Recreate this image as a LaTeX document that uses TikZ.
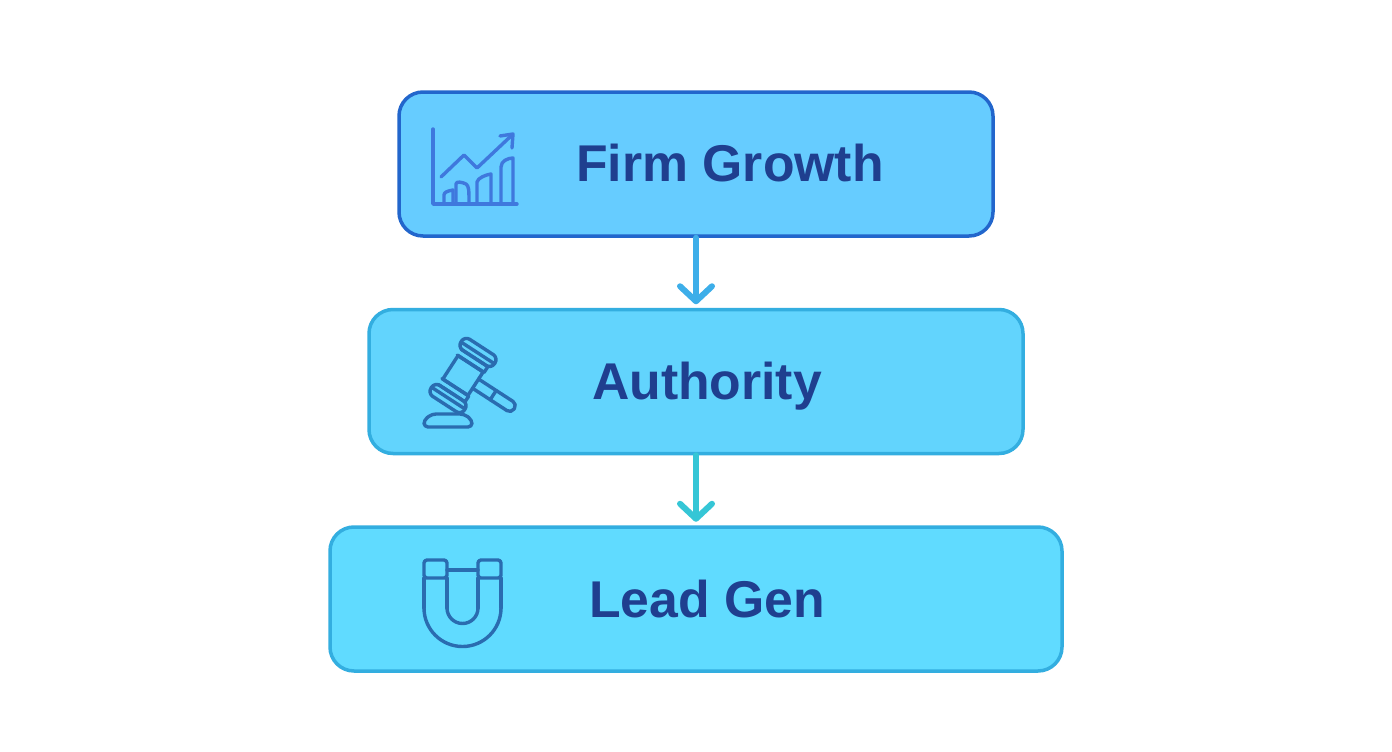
\documentclass[tikz,border=0pt]{standalone}
\usepackage{fontspec}
\setmainfont{Liberation Sans}
\usetikzlibrary{arrows.meta}
\definecolor{fillA}{HTML}{66CCFF}
\definecolor{fillB}{HTML}{62D4FD}
\definecolor{fillC}{HTML}{60DBFF}
\definecolor{edgeA}{HTML}{2266CC}
\definecolor{edgeB}{HTML}{33AEE0}
\definecolor{arrowA}{HTML}{3DAEE9}
\definecolor{arrowB}{HTML}{35C6D6}
\definecolor{textcol}{HTML}{1F3F8F}
\definecolor{iconA}{HTML}{3F78DD}
\definecolor{iconB}{HTML}{2A6CB0}
\tikzset{
  x=1pt,y=-1pt,
  card/.style={draw,rounded corners=24pt,line width=3.5pt,inner sep=0pt,minimum height=144pt},
  cardlabel/.style={text=textcol,font=\fontsize{51.7}{52}\selectfont\bfseries,anchor=base,inner sep=0pt},
  flow/.style={line width=6pt,line cap=round,shorten >=3.5pt,-{Straight Barb[length=15pt,width=32pt,line width=6pt,round]}},
  glyphA/.style={draw=iconA,line width=3.4pt,line cap=round,line join=round},
  glyphB/.style={draw=iconB,line width=3.4pt,line cap=round,line join=round},
}
\begin{document}
\begin{tikzpicture}
\useasboundingbox (0,0) rectangle (1392,752);
\fill[white] (0,0) rectangle (1392,752);
\node[card,fill=fillA,draw=edgeA,minimum width=594pt] (growth) at (696,164) {};
\node[card,fill=fillB,draw=edgeB,minimum width=654pt] (authority) at (696,381.5) {};
\node[card,fill=fillC,draw=edgeB,minimum width=732pt] (leadgen) at (696,599) {};
\node[cardlabel] (growthtext) at (730,181) {Firm Growth};
\node[cardlabel] (authoritytext) at (707,399) {Authority};
\node[cardlabel] (leadgentext) at (707,617) {Lead Gen};
\draw[flow,arrowA] (growth.south) -- (authority.north);
\draw[flow,arrowB] (authority.south) -- (leadgen.north);
% chart icon
\draw[glyphA] (433,129) -- (433,204) -- (517,204);
\draw[glyphA] (441,177) -- (464,155) -- (477,168) -- (511,136);
\draw[glyphA] (500,136) -- (513,134) -- (512,148);
\draw[glyphA] (444,204) -- (444,195) .. controls (444,192) and (448,191) .. (453,190) -- (453,204);
\draw[glyphA] (456,204) -- (456,184) .. controls (456,181) and (462,182) .. (466,184) .. controls (469,186) and (469,190) .. (469,204);
\draw[glyphA] (477,204) -- (477,182) .. controls (478,178) and (485,175) .. (491,174) -- (491,204);
\draw[glyphA] (501,204) -- (501,167) .. controls (501,161) and (508,158) .. (513,158) -- (513,204);
% gavel icon
\begin{scope}[shift={(463,375.5)},rotate=-33,glyphB]
  \draw (-15,-14) rectangle (15,14);
  \draw[rounded corners=6pt] (-20,-34) rectangle (20,-21);
  \draw (-16,-21) -- (16,-21) -- (16,-14) -- (-16,-14);
  \draw (-19,-27) -- (19,-27);
  \draw[rounded corners=6pt] (-20,21) rectangle (20,34);
  \draw (-16,21) -- (16,21) -- (16,14) -- (-16,14);
  \draw (-19,27) -- (19,27);
  \draw[rounded corners=5pt] (15,-5.5) -- (61,-5.5) -- (61,5.5) -- (15,5.5);
  \draw (36,-5.5) -- (36,5.5);
\end{scope}
\draw[glyphB,rounded corners=4pt] (424,427) -- (424,420) -- (432,414) -- (464,414) -- (472,420) -- (472,427) -- cycle;
% magnet icon
\draw[glyphB,y=1pt] (424,-608) arc[start angle=180,end angle=360,radius=38.5];
\draw[glyphB,rounded corners=3pt] (424,578) -- (424,560) -- (447,560) -- (447,578) -- cycle;
\draw[glyphB,rounded corners=3pt] (478,578) -- (478,560) -- (501,560) -- (501,578) -- cycle;
\draw[glyphB] (424,578) -- (424,608);
\draw[glyphB] (501,578) -- (501,608);
\draw[glyphB] (447,578) -- (447,608);
\draw[glyphB] (478,578) -- (478,608);
\draw[glyphB,y=1pt] (447,-608) arc[start angle=180,end angle=360,radius=15.5];
\draw[glyphB] (447,570) -- (478,570);
\end{tikzpicture}
\end{document}
